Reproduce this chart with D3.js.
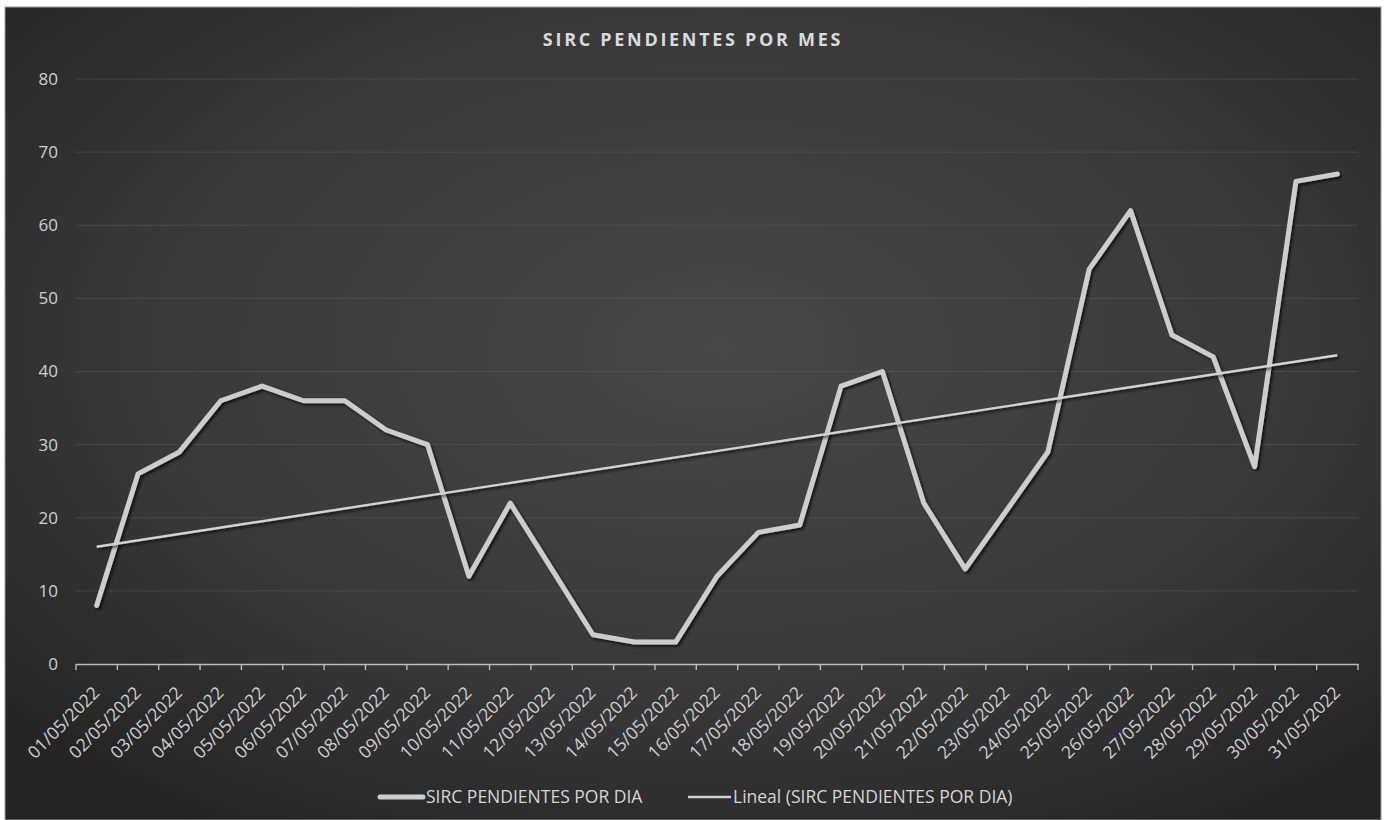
<!DOCTYPE html>
<html>
<head>
<meta charset="utf-8">
<script src="https://cdn.jsdelivr.net/npm/d3@7"></script>
<style>
  html, body { margin: 0; padding: 0; background: #ffffff; }
  svg { display: block; }
</style>
</head>
<body>
<svg id="chart" width="1392" height="820"></svg>
<script>
// ---- DATA ----
const title = "SIRC PENDIENTES POR MES";
const categories = [
  "01/05/2022","02/05/2022","03/05/2022","04/05/2022","05/05/2022","06/05/2022",
  "07/05/2022","08/05/2022","09/05/2022","10/05/2022","11/05/2022","12/05/2022",
  "13/05/2022","14/05/2022","15/05/2022","16/05/2022","17/05/2022","18/05/2022",
  "19/05/2022","20/05/2022","21/05/2022","22/05/2022","23/05/2022","24/05/2022",
  "25/05/2022","26/05/2022","27/05/2022","28/05/2022","29/05/2022","30/05/2022",
  "31/05/2022"
];
const pendientes = [8, 26, 29, 36, 38, 36, 36, 32, 30, 12, 22, 13, 4, 3, 3, 12,
                    18, 19, 38, 40, 22, 13, 21, 29, 54, 62, 45, 42, 27, 66, 67];
const yTicks = [0, 10, 20, 30, 40, 50, 60, 70, 80];
const seriesName = "SIRC PENDIENTES POR DIA";
const trendName = "Lineal (SIRC PENDIENTES POR DIA)";

// ---- LAYOUT ----
const svg = d3.select("#chart");
const frame = {x: 5, y: 7, w: 1376, h: 813};
const plot = {left: 76, right: 1358, top: 79, bottom: 664};

const defs = svg.append("defs");
const grad = defs.append("radialGradient").attr("id", "bg")
  .attr("cx", "52%").attr("cy", "42%").attr("r", "70%");
grad.append("stop").attr("offset", "0%").attr("stop-color", "#474747");
grad.append("stop").attr("offset", "60%").attr("stop-color", "#393939");
grad.append("stop").attr("offset", "100%").attr("stop-color", "#242424");

const shadow = defs.append("filter").attr("id", "shadow")
  .attr("x", "-5%").attr("y", "-5%").attr("width", "110%").attr("height", "110%");
shadow.append("feDropShadow").attr("dx", 2).attr("dy", 2).attr("stdDeviation", 1.6)
  .attr("flood-color", "#000").attr("flood-opacity", 0.7);

svg.append("rect").attr("x", frame.x).attr("y", frame.y)
  .attr("width", frame.w).attr("height", frame.h)
  .attr("fill", "url(#bg)").attr("stroke", "#9a9a9a").attr("stroke-width", 1);

// ---- SCALES ----
const x = d3.scaleBand().domain(categories).range([plot.left, plot.right]).padding(0);
const y = d3.scaleLinear().domain([0, 80]).range([plot.bottom, plot.top]);
const cx = d => x(d) + x.bandwidth() / 2;

// gridlines
svg.append("g").selectAll("line").data(yTicks.filter(v => v > 0)).join("line")
  .attr("x1", plot.left).attr("x2", plot.right)
  .attr("y1", d => y(d)).attr("y2", d => y(d))
  .attr("stroke", "#5a5a5a").attr("stroke-opacity", 0.55).attr("stroke-width", 1);

// y axis labels
const yAxis = d3.axisLeft(y).tickValues(yTicks).tickSize(0).tickPadding(18);
const gy = svg.append("g").attr("transform", `translate(${plot.left},0)`).call(yAxis);
gy.select(".domain").remove();
gy.selectAll("text").attr("fill", "#d0d0d0")
  .style("font-family", "'Open Sans', sans-serif").style("font-size", "17px");

// x axis
const xAxis = d3.axisBottom(x).tickSize(0).tickFormat(d => d);
const gx = svg.append("g").attr("transform", `translate(0,${plot.bottom})`).call(xAxis);
gx.select(".domain").attr("stroke", "#bdbdbd").attr("stroke-width", 1.6);
gx.selectAll(".tick text")
  .attr("fill", "#d0d0d0")
  .style("font-family", "'Open Sans', sans-serif").style("font-size", "17.5px")
  .attr("text-anchor", "end")
  .attr("x", 0).attr("y", 0).attr("dy", 0)
  .attr("transform", "translate(4,30) rotate(-45)");
// boundary tick marks (Excel category axis)
const boundaries = categories.map(c => x(c)).concat([plot.right]);
svg.append("g").selectAll("line").data(boundaries).join("line")
  .attr("x1", d => d).attr("x2", d => d)
  .attr("y1", plot.bottom).attr("y2", plot.bottom + 6)
  .attr("stroke", "#bdbdbd").attr("stroke-width", 1.4);

// ---- TREND (least squares of the series, like Excel's linear trendline) ----
const n = pendientes.length;
const xs = d3.range(1, n + 1);
const mx = d3.mean(xs), my = d3.mean(pendientes);
const slope = d3.sum(xs, (v, i) => (v - mx) * (pendientes[i] - my)) / d3.sum(xs, v => (v - mx) ** 2);
const intercept = my - slope * mx;
const trend = [0, n - 1].map(i => ({c: categories[i], v: intercept + slope * (i + 1)}));

// ---- SERIES LINE ----
const line = d3.line().x(d => cx(d.c)).y(d => y(d.v)).curve(d3.curveLinear);
const seriesData = categories.map((c, i) => ({c, v: pendientes[i]}));

svg.append("path").datum(seriesData)
  .attr("d", line).attr("fill", "none")
  .attr("stroke", "#cdcdcd").attr("stroke-width", 5)
  .attr("stroke-linejoin", "round").attr("stroke-linecap", "round")
  .attr("filter", "url(#shadow)");

svg.append("path").datum(trend)
  .attr("d", line).attr("fill", "none")
  .attr("stroke", "#d2d2d2").attr("stroke-width", 2.4)
  .attr("filter", "url(#shadow)");

// ---- TITLE ----
svg.append("text").attr("x", 693).attr("y", 46)
  .attr("text-anchor", "middle")
  .attr("fill", "#dadada")
  .style("font-family", "'Open Sans', sans-serif").style("font-weight", "700")
  .style("font-size", "18px").style("letter-spacing", "2.7px")
  .text(title);

// ---- LEGEND ----
const legY = 797;
const lg = svg.append("g");
lg.append("line").attr("x1", 380).attr("x2", 423).attr("y1", legY).attr("y2", legY)
  .attr("stroke", "#cdcdcd").attr("stroke-width", 5).attr("stroke-linecap", "round");
lg.append("text").attr("x", 426).attr("y", legY).attr("dy", "0.36em")
  .attr("fill", "#d6d6d6")
  .style("font-family", "'Liberation Sans Narrow', 'Open Sans', sans-serif").style("font-size", "17.5px")
  .text(seriesName);
lg.append("line").attr("x1", 688).attr("x2", 731).attr("y1", legY).attr("y2", legY)
  .attr("stroke", "#d2d2d2").attr("stroke-width", 2.4);
lg.append("text").attr("x", 733).attr("y", legY).attr("dy", "0.36em")
  .attr("fill", "#d6d6d6")
  .style("font-family", "'Liberation Sans Narrow', 'Open Sans', sans-serif").style("font-size", "17.5px")
  .text(trendName);
</script>
</body>
</html>
